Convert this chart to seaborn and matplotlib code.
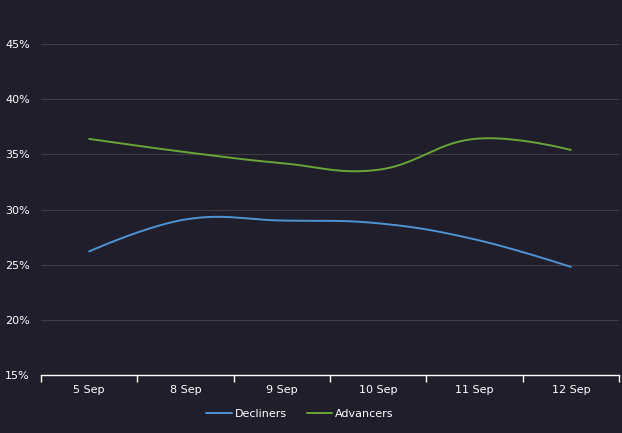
import numpy as np
import pandas as pd
import matplotlib
matplotlib.use("Agg")
import matplotlib.pyplot as plt
import seaborn as sns

categories = ["5 Sep", "8 Sep", "9 Sep", "10 Sep", "11 Sep", "12 Sep"]
decliners = [26.2, 29.1, 29.0, 28.75, 27.3, 24.8]
advancers = [36.4, 35.2, 34.2, 33.6, 36.4, 35.4]
y_ticks = [15, 20, 25, 30, 35, 40, 45]

BG = "#1f1e2a"
GRID = "#3e3e40"
BLUE = "#4f93d3"
GREEN = "#6aa637"


def spline(xs, ys, n=40):
    """Highcharts-style spline rendering of the given points."""
    xs = np.asarray(xs, float)
    ys = np.asarray(ys, float)
    m = len(xs)
    lc = [(xs[i], ys[i]) for i in range(m)]
    rc = [(xs[i], ys[i]) for i in range(m)]
    sm, den = 1.5, 2.5
    for i in range(1, m - 1):
        x, y = xs[i], ys[i]
        px, py = xs[i - 1], ys[i - 1]
        nx, ny = xs[i + 1], ys[i + 1]
        lcx = (sm * x + px) / den
        lcy = (sm * y + py) / den
        rcx = (sm * x + nx) / den
        rcy = (sm * y + ny) / den
        if rcx != lcx:
            corr = ((rcy - lcy) * (rcx - x)) / (rcx - lcx) + y - rcy
            lcy += corr
            rcy += corr
        lc[i] = (lcx, lcy)
        rc[i] = (rcx, rcy)
    outx, outy = [xs[0]], [ys[0]]
    t = np.linspace(0, 1, n)[1:]
    for i in range(1, m):
        p0 = np.array([xs[i - 1], ys[i - 1]])
        p1 = np.array(rc[i - 1])
        p2 = np.array(lc[i])
        p3 = np.array([xs[i], ys[i]])
        pts = ((1 - t) ** 3)[:, None] * p0 + (3 * (1 - t) ** 2 * t)[:, None] * p1 \
            + (3 * (1 - t) * t ** 2)[:, None] * p2 + (t ** 3)[:, None] * p3
        outx.extend(pts[:, 0])
        outy.extend(pts[:, 1])
    return np.array(outx), np.array(outy)


sns.set_theme(style="dark")
plt.rcParams["font.family"] = ["DejaVu Sans"]

fig = plt.figure(figsize=(6.22, 4.33), dpi=100, facecolor=BG)
ax = fig.add_axes([41 / 622, 1 - 375 / 433, 578 / 622, 331 / 433])
ax.set_facecolor(BG)

xpos = np.arange(len(categories))
for name, vals, col in [("Decliners", decliners, BLUE), ("Advancers", advancers, GREEN)]:
    sx, sy = spline(xpos, vals)
    df = pd.DataFrame({"x": sx, "y": sy})
    sns.lineplot(data=df, x="x", y="y", ax=ax, color=col, linewidth=1.4,
                 label=name, sort=False, estimator=None)

ax.set_xlim(-0.5, len(categories) - 0.5)
ax.set_ylim(15, 45)
ax.set_yticks(y_ticks)
ax.set_yticklabels([f"{v}%" for v in y_ticks])
ax.set_xticks(xpos)
ax.set_xticklabels(categories)
ax.set_xticks(np.arange(-0.5, len(categories)), minor=True)
ax.tick_params(axis="x", which="major", length=0, pad=7, colors="white", labelsize=8)
ax.tick_params(axis="x", which="minor", bottom=True, length=5, width=1, color="white",
               direction="out")
ax.tick_params(axis="y", length=0, pad=8, colors="white", labelsize=8)
ax.set_xlabel("")
ax.set_ylabel("")

ax.grid(False)
for v in y_ticks[1:]:
    ax.axhline(v, color=GRID, linewidth=0.8, zorder=0)

for s in ["top", "right", "left"]:
    ax.spines[s].set_visible(False)
ax.spines["bottom"].set_color("white")
ax.spines["bottom"].set_linewidth(1)

leg = ax.legend(loc="upper center", bbox_to_anchor=(0.448, -0.072), ncol=2, frameon=False,
                fontsize=8, handlelength=2.3, handletextpad=0.25, columnspacing=1.8)
for txt in leg.get_texts():
    txt.set_color("white")

fig.savefig("out.png", dpi=100, facecolor=BG)
